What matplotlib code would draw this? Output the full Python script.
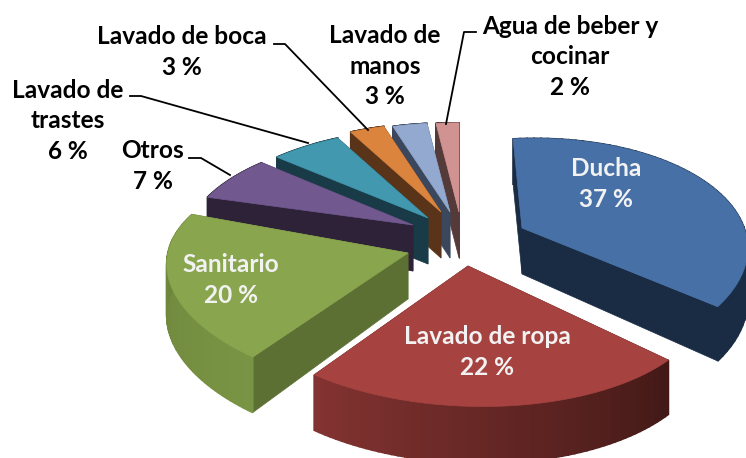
# Uso del agua en casa: pastel 3D separado
import numpy as np
import matplotlib
matplotlib.use('Agg')
import matplotlib.pyplot as plt
from matplotlib.colors import to_rgb

# Data
categories = ['Ducha', 'Lavado de ropa', 'Sanitario', 'Otros', 'Lavado de trastes',
              'Lavado de boca', 'Lavado de manos', 'Agua de beber y cocinar']
values = [37, 22, 20, 7, 6, 3, 3, 2]
label_text = ['Ducha\n37 %', 'Lavado de ropa\n22 %', 'Sanitario\n20 %', 'Otros\n7 %',
              'Lavado de\ntrastes\n6 %', 'Lavado de boca\n3 %', 'Lavado de\nmanos\n3 %',
              'Agua de beber y\ncocinar\n2 %']

# Styles and layout (pixels)
top_colors = ['#4670A6', '#A64340', '#89A54E', '#71588F', '#4198AF', '#DB843D', '#93A9CF', '#D19392']
side_colors = ['#1A2C44', '#421917', '#5D7033', '#2D2238', '#193B47', '#5A3418', '#3A475C', '#553A3A']
arc_left = ['#1A2C44', '#833331', '#6A8238', '#2D2238', '#193B47', '#5A3418', '#3A475C', '#553A3A']
arc_right = ['#1A2C44', '#421917', '#7A9445', '#2D2238', '#193B47', '#5A3418', '#3A475C', '#553A3A']
apex_x = [522, 468, 408, 413, 428, 441, 450, 459]
apex_y = [228, 266, 253, 225, 218, 212, 212, 212]
scale_x = [0.97, 1.04, 1.05, 1, 1, 1, 1, 1]
shear_y = [-0.05, 0.03, 0.06, 0.01, 0, 0, 0, 0]
shear_x = [0.1, 0, 0, 0, 0, 0, 0, 0]
text_x = [606, 487, 231, 153, 68, 182, 385, 570]
text_y = [184, 352, 280, 166, 121, 52, 66, 57]
text_colors = ['#F2F2F2', '#F2F2F2', '#F2F2F2', 'k', 'k', 'k', 'k', 'k']
leader_x = [[189, 201, 230], [130, 141, 308], [274, 285, 368], [476, 464, 446]]
leader_y = [[158, 158, 175], [96, 96, 143], [44, 44, 130], [32, 32, 124]]

RX, RY, PERSP, DEPTH, APEX_DEPTH = 224, 109, 0.223, 50, 46
draw_order = [7, 6, 5, 4, 3, 0, 2, 1]


def project(ang, i):
    """ Punto del borde del pastel con perspectiva, a partir del vertice """
    w = 1 + PERSP*np.sin(ang)
    dx = scale_x[i]*RX*np.cos(ang)/w
    dy = -RY*np.sin(ang)/w
    x = apex_x[i] + dx + shear_x[i]*dy
    y = apex_y[i] + dy + shear_y[i]*dx
    return x, y, DEPTH/np.sqrt(w)


def mix(c1, c2, f):
    return tuple((1-f)*a + f*b for a, b in zip(to_rgb(c1), to_rgb(c2)))


def draw_slice(ax, a0, a1, i):
    ang = np.linspace(a0, a1, 60)
    x, y, d = project(ang, i)
    ax0, ay0 = apex_x[i], apex_y[i]
    # paredes radiales
    for j in (0, -1):
        ax.fill([ax0, x[j], x[j], ax0], [ay0, y[j], y[j]+d[j], ay0+APEX_DEPTH],
                color=side_colors[i], lw=0.5)
    # pared exterior
    for j in range(len(ang)-1):
        # a0 va del lado derecho, a1 del izquierdo
        c = mix(arc_right[i], arc_left[i], j/(len(ang)-2))
        ax.fill([x[j], x[j+1], x[j+1], x[j]],
                [y[j], y[j+1], y[j+1]+d[j+1], y[j]+d[j]], color=c, lw=1.2)
    # cara superior
    ax.fill(np.r_[ax0, x], np.r_[ay0, y], color=top_colors[i], lw=0.5)


plt.rcParams['font.family'] = ['Lato', 'DejaVu Sans']
fig = plt.figure(figsize=(7.46, 4.58), dpi=100)
ax = fig.add_axes([0, 0, 1, 1])
ax.set_xlim(0, 746)
ax.set_ylim(458, 0)
ax.axis('off')

# angulos desde las 12 en sentido horario
cum = np.r_[0, np.cumsum(values)]/np.sum(values)
angles = np.pi/2 - 2*np.pi*cum
for i in draw_order:
    draw_slice(ax, angles[i], angles[i+1], i)

for lx, ly in zip(leader_x, leader_y):
    ax.plot(lx, ly, color='k', lw=1.3)

for i in range(len(categories)):
    ax.text(text_x[i], text_y[i], label_text[i], ha='center', va='center',
            color=text_colors[i], fontsize=17.6, fontweight='bold', linespacing=1.42)

fig.savefig('out.png', dpi=100)
